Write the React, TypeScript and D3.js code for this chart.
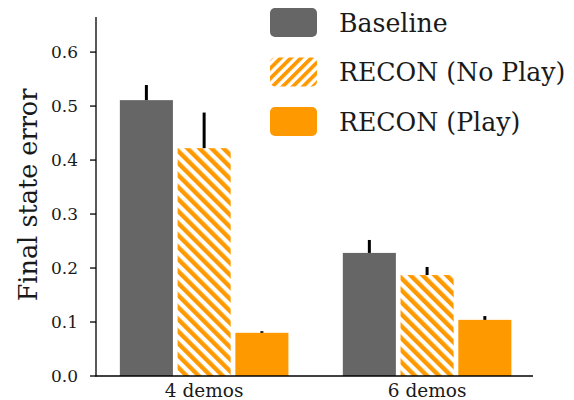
import React from "react";
import * as d3 from "d3";

const categories = ["4 demos", "6 demos"];
const seriesNames = ["Baseline", "RECON (No Play)", "RECON (Play)"];
const baselineValues = [0.511, 0.228];
const noPlayValues = [0.422, 0.187];
const playValues = [0.08, 0.104];
const baselineErr = [0.028, 0.024];
const noPlayErr = [0.066, 0.015];
const playErr = [0.003, 0.007];
const yTicks = [0, 0.1, 0.2, 0.3, 0.4, 0.5, 0.6];

const W = 574;
const H = 400;
const FONT = "'DejaVu Serif', serif";
const GRAY = "#666666";
const ORANGE = "#FF9900";

export default function App() {
  const y = d3.scaleLinear().domain([0, 0.665]).range([376, 17]);
  const x = d3.scaleLinear().domain([-0.485, 1.475]).range([96, 533]);
  const offset = 0.259;
  const bw = 0.238;
  const series = [
    { name: seriesNames[0], values: baselineValues, errs: baselineErr, fill: GRAY },
    { name: seriesNames[1], values: noPlayValues, errs: noPlayErr, fill: "url(#hatchBar)" },
    { name: seriesNames[2], values: playValues, errs: playErr, fill: ORANGE },
  ];
  const barW = x(bw) - x(0);
  const fmt = d3.format(".1f");
  const legendFills = [GRAY, "url(#hatchLegend)", ORANGE];

  return (
    <svg width={W} height={H} style={{ position: "absolute", left: 0, top: 0, background: "#fff" }}>
      <defs>
        <pattern id="hatchBar" patternUnits="userSpaceOnUse" width={8.5} height={8.5} patternTransform="rotate(-45)">
          <rect x={0} y={0} width={8.5} height={8.5} fill="#fff" />
          <rect x={0} y={0} width={4.4} height={8.5} fill={ORANGE} />
        </pattern>
        <pattern id="hatchLegend" patternUnits="userSpaceOnUse" width={7.2} height={7.2} patternTransform="rotate(45)">
          <rect x={0} y={0} width={7.2} height={7.2} fill="#fff" />
          <rect x={0} y={0} width={3.8} height={7.2} fill={ORANGE} />
        </pattern>
      </defs>

      {series.map((s, si) =>
        categories.map((c, ci) => {
          const cx = x(ci + (si - 1) * offset);
          return (
            <g key={`${si}-${ci}`}>
              <rect x={cx - barW / 2} y={y(s.values[ci])} width={barW} height={y(0) - y(s.values[ci])} fill={s.fill} />
              <line x1={cx} x2={cx} y1={y(s.values[ci])} y2={y(s.values[ci] + s.errs[ci])} stroke="#000" strokeWidth={3} />
            </g>
          );
        })
      )}

      {/* y axis */}
      <line x1={96} x2={96} y1={17} y2={376.5} stroke="#000" strokeWidth={1.3} />
      {yTicks.map((t) => (
        <g key={t}>
          <line x1={90} x2={96} y1={y(t)} y2={y(t)} stroke="#000" strokeWidth={1.3} />
          <text x={78} y={y(t)} dy="0.36em" textAnchor="end" fontFamily={FONT} fontSize={17} fill="#1a1a1a">
            {fmt(t)}
          </text>
        </g>
      ))}
      {/* x axis */}
      <line x1={95.5} x2={533} y1={376} y2={376} stroke="#000" strokeWidth={1.3} />
      {categories.map((c, ci) => (
        <text key={c} x={x(ci)} y={397} textAnchor="middle" fontFamily={FONT} fontSize={18.5} fill="#1a1a1a">
          {c}
        </text>
      ))}
      <text
        transform={`translate(37,195) rotate(-90)`}
        textAnchor="middle"
        fontFamily={FONT}
        fontSize={25.5}
        fill="#1a1a1a"
      >
        Final state error
      </text>

      {/* legend */}
      {seriesNames.map((n, i) => {
        const cy = 22.5 + i * 49.5;
        return (
          <g key={n}>
            <rect x={270} y={cy - 14.5} width={47} height={29} rx={5} ry={5} fill={legendFills[i]} />
            <text x={339} y={cy} dy="0.36em" fontFamily={FONT} fontSize={25.2} fill="#1a1a1a">
              {n}
            </text>
          </g>
        );
      })}
    </svg>
  );
}
